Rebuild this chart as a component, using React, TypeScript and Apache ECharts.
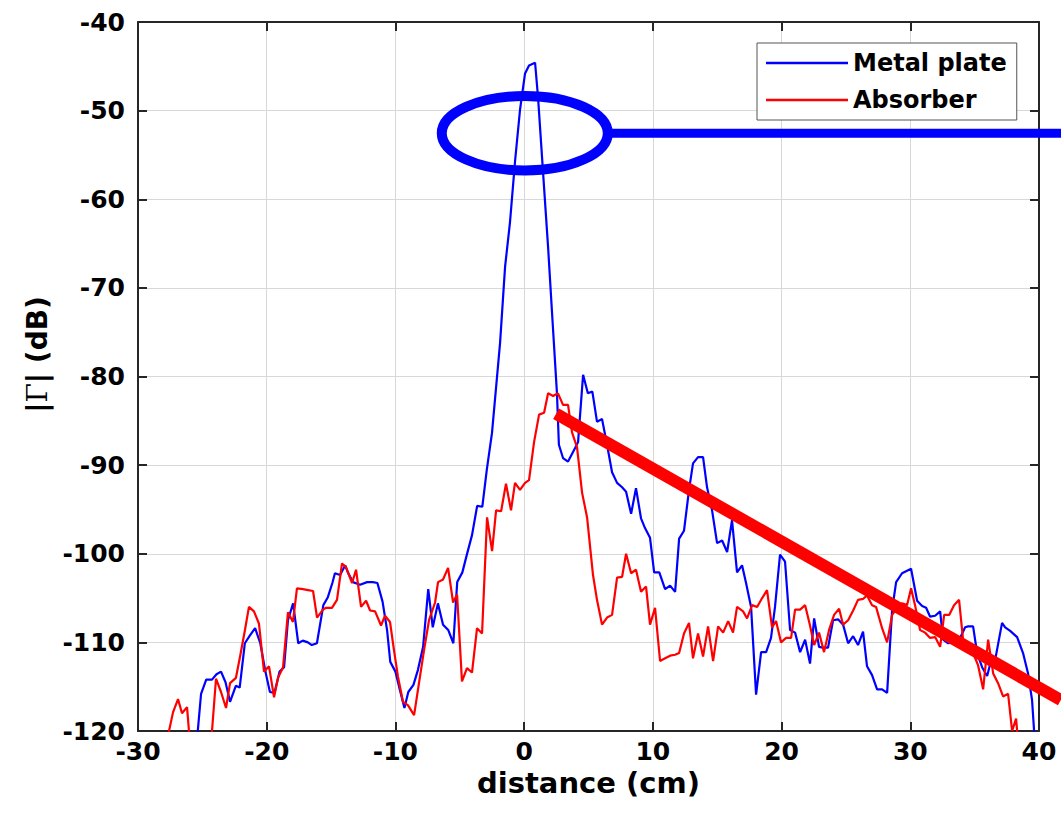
import React, { useEffect, useRef } from "react";
import * as echarts from "echarts";

const xTicks = { min: -30, max: 40, interval: 10 };
const yTicks = { min: -120, max: -40, interval: 10 };
const legendNames = ["Metal plate", "Absorber"];

const metalPlate: [number, number][] = [
  [-25.6, -124], [-25.1, -115.8], [-24.7, -114.2], [-24.25, -114.2], [-23.9, -113.6], [-23.55, -113.3],
  [-23.2, -114.5], [-22.85, -116.7], [-22.4, -114.9], [-22.1, -115.1], [-21.7, -110.1], [-21.3, -109.2],
  [-20.9, -108.4], [-20.5, -110.1], [-20.1, -113.3], [-19.75, -115.6], [-19.4, -115.7], [-19.0, -113.3],
  [-18.65, -112.8], [-18.35, -107.5], [-17.95, -105.6], [-17.55, -110.1], [-17.2, -109.8], [-16.8, -110.0],
  [-16.5, -110.3], [-16.1, -110.1], [-15.6, -105.8], [-15.25, -104.9], [-14.9, -103.3], [-14.7, -102.2],
  [-14.3, -102.4], [-13.9, -101.3], [-13.7, -102.1], [-13.3, -103.2], [-12.75, -103.5], [-12.2, -103.2],
  [-11.75, -103.2], [-11.4, -103.3], [-11.0, -105.4], [-10.65, -108.6], [-10.4, -112.2], [-10.0, -113.3],
  [-9.65, -115.4], [-9.3, -117.4], [-9.0, -115.6], [-8.6, -114.8], [-8.25, -113.1], [-7.85, -110.5],
  [-7.45, -104.0], [-7.1, -108.3], [-6.7, -105.6], [-6.3, -108.0], [-5.9, -108.6], [-5.5, -110.1],
  [-5.2, -103.2], [-4.8, -102.1], [-4.45, -100.1], [-4.05, -97.9], [-3.65, -94.6], [-3.25, -94.7],
  [-2.9, -90.5], [-2.5, -86.4], [-1.87, -76.2], [-1.48, -67.6], [-1.1, -62.6], [-0.7, -55.6],
  [-0.32, -49.9], [0.07, -45.8], [0.38, -44.9], [0.85, -44.6], [1.08, -48.5], [1.47, -57.0],
  [1.86, -65.4], [2.2, -73.6], [2.55, -81.9], [2.7, -87.7], [3.02, -89.2], [3.41, -89.6],
  [3.95, -88.1], [4.19, -87.4], [4.58, -79.8], [4.95, -81.9], [5.3, -81.7], [5.66, -85.1],
  [6.05, -84.8], [6.44, -87.7], [6.83, -90.8], [7.22, -92.0], [7.61, -92.5], [7.92, -93.0],
  [8.31, -95.5], [8.69, -92.6], [9.08, -96.0], [9.39, -97.1], [9.78, -98.2], [10.1, -102.1],
  [10.5, -102.1], [10.95, -104.0], [11.34, -103.6], [11.73, -104.3], [12.04, -98.3], [12.42, -97.4],
  [12.81, -92.8], [13.12, -89.8], [13.51, -89.1], [13.9, -89.1], [14.21, -92.5], [14.6, -95.1],
  [14.99, -98.8], [15.38, -98.5], [15.77, -99.8], [16.15, -96.2], [16.54, -102.1], [16.93, -101.3],
  [17.24, -103.3], [17.63, -106.0], [18.02, -115.9], [18.41, -111.1], [18.8, -111.1], [19.18, -109.5],
  [19.49, -106.0], [19.88, -100.1], [20.27, -100.9], [20.66, -108.6], [21.05, -108.9], [21.44, -111.1],
  [21.83, -109.7], [22.21, -112.4], [22.53, -107.3], [22.91, -110.5], [23.22, -110.6], [23.61, -110.6],
  [24.0, -107.5], [24.39, -107.4], [24.78, -108.0], [25.17, -110.1], [25.56, -109.3], [25.94, -110.3],
  [26.33, -108.8], [26.64, -112.7], [27.03, -113.7], [27.42, -115.3], [27.81, -115.3], [28.2, -115.7],
  [28.59, -106.3], [28.9, -103.2], [29.36, -102.2], [30.06, -101.7], [30.53, -105.3], [30.92, -105.9],
  [31.23, -106.1], [31.54, -107.1], [31.93, -107.0], [32.32, -106.5], [32.55, -109.7], [32.94, -110.1],
  [33.48, -110.0], [33.87, -109.5], [34.26, -108.3], [34.49, -108.2], [34.88, -108.2], [35.19, -111.2],
  [35.58, -112.8], [35.97, -113.8], [36.36, -111.6], [36.59, -112.0], [37.13, -107.8], [37.37, -108.3],
  [37.76, -108.7], [38.3, -109.4], [38.76, -111.2], [39.15, -113.5], [39.46, -116.5], [39.62, -120],
  [39.8, -124],
];

const absorber: [number, number][] = [
  [-27.9, -124], [-27.59, -120], [-27.28, -117.9], [-26.89, -116.4], [-26.58, -118.0], [-26.19, -117.3],
  [-26.04, -120], [-25.9, -124], [-24.4, -124], [-24.25, -120], [-23.94, -114.1], [-23.55, -115.6],
  [-23.16, -117.4], [-22.85, -114.6], [-22.39, -114.0], [-22.07, -111.6], [-21.69, -108.6], [-21.38, -106.0],
  [-20.99, -106.5], [-20.6, -107.9], [-20.21, -113.3], [-19.82, -112.7], [-19.43, -116.2], [-19.12, -114.0],
  [-18.73, -112.8], [-18.35, -106.6], [-17.96, -107.7], [-17.65, -103.9], [-17.18, -104.0], [-16.79, -104.1],
  [-16.4, -104.2], [-16.09, -107.2], [-15.63, -106.3], [-15.39, -106.1], [-14.93, -106.1], [-14.54, -105.2],
  [-14.15, -101.1], [-13.84, -101.5], [-13.37, -103.3], [-13.06, -101.8], [-12.67, -106.0], [-12.28, -105.3],
  [-11.97, -106.4], [-11.58, -106.5], [-11.12, -108.1], [-10.81, -107.0], [-10.42, -107.7], [-10.11, -110.9],
  [-9.8, -113.9], [-9.41, -116.7], [-9.02, -117.1], [-8.55, -118.2], [-8.17, -114.6], [-7.78, -110.9],
  [-7.39, -107.5], [-6.92, -105.5], [-6.69, -103.2], [-6.3, -102.9], [-5.91, -101.6], [-5.52, -105.5],
  [-5.21, -104.6], [-4.83, -114.4], [-4.44, -112.9], [-4.05, -113.4], [-3.66, -108.4], [-3.27, -109.0],
  [-2.88, -95.9], [-2.49, -99.7], [-2.18, -95.1], [-1.79, -95.2], [-1.41, -92.1], [-1.02, -95.1],
  [-0.71, -92.0], [-0.32, -92.8], [0.07, -92.0], [0.38, -91.7], [0.77, -87.4], [1.16, -84.3],
  [1.55, -84.1], [1.86, -81.9], [2.25, -82.2], [2.63, -81.9], [3.02, -83.2], [3.41, -83.2],
  [3.72, -86.3], [4.11, -88.0], [4.5, -93.1], [4.89, -95.9], [5.35, -102.4], [5.66, -105.2],
  [6.05, -108.0], [6.44, -107.2], [6.83, -106.9], [7.22, -102.7], [7.61, -102.6], [7.92, -100.0],
  [8.31, -102.2], [8.69, -101.8], [9.08, -104.3], [9.47, -103.7], [9.78, -108.0], [10.17, -106.1],
  [10.56, -112.1], [10.95, -111.8], [11.34, -111.5], [11.73, -111.4], [12.04, -111.2], [12.42, -109.0],
  [12.81, -107.8], [13.12, -111.8], [13.51, -109.0], [13.9, -111.6], [14.29, -108.2], [14.68, -112.1],
  [15.07, -108.2], [15.46, -108.9], [15.85, -107.6], [16.23, -108.9], [16.54, -106.0], [17.01, -106.5],
  [17.32, -107.3], [17.71, -105.8], [18.1, -106.0], [18.49, -105.0], [18.87, -104.1], [19.26, -108.3],
  [19.57, -107.6], [19.96, -110.0], [20.35, -109.5], [20.74, -109.5], [21.05, -106.3], [21.44, -106.3],
  [21.83, -105.8], [22.21, -108.1], [22.53, -110.3], [22.91, -108.9], [23.3, -111.1], [23.69, -108.6],
  [24.08, -106.9], [24.47, -106.2], [24.78, -108.0], [25.17, -107.5], [25.56, -106.4], [25.94, -105.2],
  [26.33, -105.1], [26.64, -104.7], [27.03, -105.8], [27.34, -106.0], [27.81, -108.4], [28.2, -110.0],
  [28.59, -106.9], [29.05, -106.0], [29.36, -105.6], [29.75, -105.8], [30.06, -103.9], [30.37, -105.8],
  [30.76, -108.6], [31.15, -108.9], [31.54, -109.5], [31.93, -109.4], [32.32, -110.5], [32.63, -106.9],
  [33.02, -106.9], [33.4, -105.8], [33.79, -105.2], [34.1, -109.7], [34.41, -110.4], [34.88, -111.2],
  [35.27, -112.6], [35.66, -115.3], [36.05, -109.7], [36.44, -113.5], [36.82, -114.6], [37.21, -116.1],
  [37.6, -115.8], [37.91, -120], [38.22, -118.6], [38.3, -120], [38.5, -124],
];

// annotation shapes, in data units (cm, dB)
const ellipseCenter: [number, number] = [0.05, -52.55];
const ellipseRadii: [number, number] = [6.45, 4.2];
const pointerEndX = 41.8;
const redLineStart: [number, number] = [2.48, -84.2];
const redLineEnd: [number, number] = [41.7, -116.5];

const FONT = "DejaVu Sans";
const AXIS_COLOR = "#262626";

export default function App() {
  const ref = useRef<HTMLDivElement>(null);
  useEffect(() => {
    if (!ref.current) return;
    const chart = echarts.init(ref.current, undefined, { renderer: "svg" });
    const commonX = {
      type: "value" as const,
      min: xTicks.min,
      max: xTicks.max,
      interval: xTicks.interval,
    };
    const commonY = {
      type: "value" as const,
      min: yTicks.min,
      max: yTicks.max,
      interval: yTicks.interval,
    };
    chart.setOption({
      animation: false,
      backgroundColor: "#ffffff",
      grid: { left: 138, right: 22, top: 22, bottom: 96, containLabel: false },
      legend: {
        data: legendNames,
        orient: "vertical",
        left: 757,
        top: 43,
        icon: "rect",
        itemWidth: 82,
        itemHeight: 2.5,
        itemGap: 9,
        padding: [6, 10, 6, 9],
        backgroundColor: "#ffffff",
        borderColor: "#555555",
        borderWidth: 1,
        textStyle: { fontFamily: FONT, fontWeight: "bold", fontSize: 24, color: "#000", lineHeight: 28 },
      },
      xAxis: [
        {
          ...commonX,
          position: "bottom",
          name: "distance (cm)",
          nameLocation: "middle",
          nameGap: 28,
          nameTextStyle: { fontFamily: FONT, fontWeight: "bold", fontSize: 29, color: "#000" },
          axisLine: { show: true, onZero: false, lineStyle: { color: AXIS_COLOR, width: 2 } },
          axisTick: { show: true, inside: true, length: 9, lineStyle: { color: AXIS_COLOR, width: 2 } },
          axisLabel: { fontFamily: FONT, fontWeight: "bold", fontSize: 25, color: "#000", margin: 8 },
          splitLine: { show: true, lineStyle: { color: "#d8d8d8", width: 1 } },
        },
        {
          ...commonX,
          position: "top",
          axisLine: { show: true, onZero: false, lineStyle: { color: AXIS_COLOR, width: 2 } },
          axisTick: { show: true, inside: true, length: 9, lineStyle: { color: AXIS_COLOR, width: 2 } },
          axisLabel: { show: false },
          splitLine: { show: false },
        },
      ],
      yAxis: [
        {
          ...commonY,
          position: "left",
          name: "|{g|Γ}| (dB)",
          nameLocation: "middle",
          nameGap: 82,
          nameTextStyle: {
            fontFamily: FONT,
            fontWeight: "bold",
            fontSize: 28,
            color: "#000",
            padding: [0, 0, 0, 44],
            rich: { g: { fontFamily: "DejaVu Serif", fontWeight: "normal", fontSize: 28, color: "#000" } },
          },
          axisLine: { show: true, onZero: false, lineStyle: { color: AXIS_COLOR, width: 2 } },
          axisTick: { show: true, inside: true, length: 9, lineStyle: { color: AXIS_COLOR, width: 2 } },
          axisLabel: { fontFamily: FONT, fontWeight: "bold", fontSize: 25, color: "#000", margin: 13 },
          splitLine: { show: true, lineStyle: { color: "#d8d8d8", width: 1 } },
        },
        {
          ...commonY,
          position: "right",
          axisLine: { show: true, onZero: false, lineStyle: { color: AXIS_COLOR, width: 2 } },
          axisTick: { show: true, inside: true, length: 9, lineStyle: { color: AXIS_COLOR, width: 2 } },
          axisLabel: { show: false },
          splitLine: { show: false },
        },
      ],
      series: [
        {
          name: legendNames[0],
          type: "line",
          data: metalPlate,
          xAxisIndex: 0,
          yAxisIndex: 0,
          symbol: "none",
          showSymbol: false,
          clip: true,
          color: "#0000ff",
          lineStyle: { color: "#0000ff", width: 2.2 },
          z: 3,
        },
        {
          name: legendNames[1],
          type: "line",
          data: absorber,
          xAxisIndex: 0,
          yAxisIndex: 0,
          symbol: "none",
          showSymbol: false,
          clip: true,
          color: "#ff0000",
          lineStyle: { color: "#ff0000", width: 2.2 },
          z: 4,
        },
      ],
    });

    const toPx = (p: [number, number]) =>
      chart.convertToPixel({ xAxisIndex: 0, yAxisIndex: 0 }, p) as number[];
    const c = toPx(ellipseCenter);
    const r = toPx([ellipseCenter[0] + ellipseRadii[0], ellipseCenter[1] + ellipseRadii[1]]);
    const rx = Math.abs(r[0] - c[0]);
    const ry = Math.abs(r[1] - c[1]);
    const pe = toPx([pointerEndX, ellipseCenter[1]]);
    const rs = toPx(redLineStart);
    const re = toPx(redLineEnd);

    chart.setOption({
      graphic: [
        {
          type: "line",
          z: 100,
          shape: { x1: c[0] + rx, y1: c[1], x2: pe[0], y2: c[1] },
          style: { stroke: "#0000ff", lineWidth: 9 },
        },
        {
          type: "ellipse",
          z: 101,
          shape: { cx: c[0], cy: c[1], rx, ry },
          style: { fill: "none", stroke: "#0000ff", lineWidth: 10 },
        },
        {
          type: "line",
          z: 102,
          shape: { x1: rs[0], y1: rs[1], x2: re[0], y2: re[1] },
          style: { stroke: "#ff0000", lineWidth: 12 },
        },
      ],
    });

    return () => chart.dispose();
  }, []);
  return (
    <div
      ref={ref}
      style={{ position: "fixed", left: 0, top: 0, width: 1061, height: 827, background: "#fff" }}
    />
  );
}
